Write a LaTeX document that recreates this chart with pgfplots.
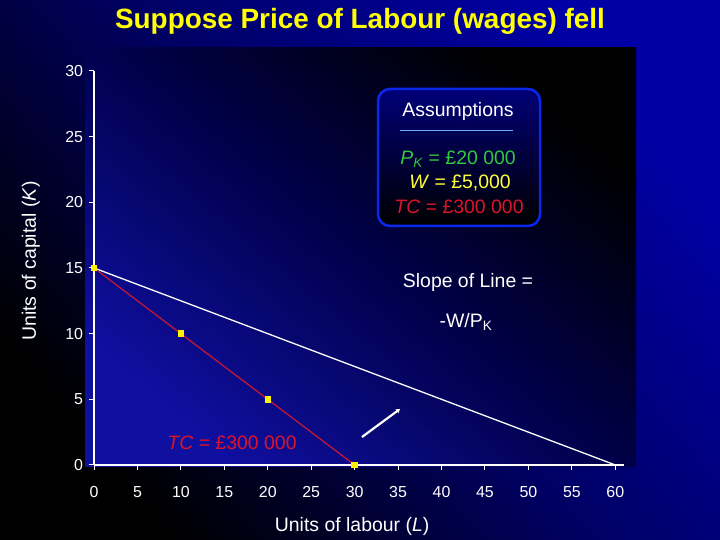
\documentclass[border=0pt]{standalone}
\usepackage{fontspec}
\setmainfont{Liberation Sans}
\usepackage{pgfplots}
\pgfplotsset{compat=1.18}
\usetikzlibrary{arrows.meta}
\definecolor{slideblue}{RGB}{0,0,165}
\definecolor{panelblue}{RGB}{15,15,160}
\definecolor{panelmid}{RGB}{0,0,75}
\definecolor{boxborder}{RGB}{10,40,235}
\definecolor{boxtop}{RGB}{0,0,120}
\definecolor{rulecol}{RGB}{110,170,255}
\definecolor{pkgreen}{RGB}{50,200,60}
\definecolor{wyellow}{RGB}{255,255,60}
\definecolor{tcred}{RGB}{220,20,40}
\definecolor{linered}{RGB}{190,25,50}
\definecolor{titleyellow}{RGB}{255,255,0}
\begin{document}
\begin{tikzpicture}[x=1bp,y=1bp]
\useasboundingbox (0,0) rectangle (720,540);
\shade[top color=slideblue, bottom color=black, middle color=black!40!slideblue, shading angle=-50] (0,0) rectangle (720,540);
\shade[top color=black, bottom color=panelblue, middle color=panelmid, shading angle=-40] (85,73) rectangle (636,492);
\node[text=titleyellow, font=\bfseries\fontsize{28}{28}\selectfont, anchor=base] at (360,511) {Suppose Price of Labour (wages) fell};
\begin{axis}[
  at={(94bp,75bp)}, anchor=south west,
  scale only axis, width=530bp, height=394bp,
  xmin=0, xmax=61, ymin=0, ymax=30,
  axis x line=bottom, axis y line=left,
  axis line style={-, white, line width=1.6bp},
  xtick={0,5,...,60}, ytick={0,5,...,30},
  tick style={white, line width=1bp},
  tick align=outside, major tick length=5bp,
  ticklabel style={text=white, font=\fontsize{16}{16}\selectfont},
  xticklabel style={anchor=north, text height=11.5bp, text depth=0bp, yshift=-12.5bp},
  yticklabel style={xshift=-2.5bp},
  /pgf/number format/assume math mode=true,
  clip=false,
  xlabel={Units of labour (\textit{L})},
  ylabel={Units of capital (\textit{K})},
  xlabel style={at={(axis description cs:0.487,-0.157)}, anchor=center, text=white, font=\fontsize{19.5}{19.5}\selectfont},
  ylabel style={at={(axis description cs:-0.119,0.518)}, anchor=center, rotate=0, text=white, font=\fontsize{19.5}{19.5}\selectfont},
]
\addplot[white, line width=1.3bp] coordinates {(0,15) (60,0)};
\addplot[linered, line width=1.3bp, mark=square*, mark size=2.6bp, mark options={fill=yellow, draw=yellow}] coordinates {(0,15) (10,10) (20,5) (30,0)};
\end{axis}
% assumptions box
\shade[rounded corners=12bp, top color=boxtop, bottom color=black] (378,314) rectangle (540,451);
\draw[boxborder, line width=2.5bp, rounded corners=12bp] (378,314) rectangle (540,451);
\node[text=white, font=\fontsize{19.5}{19.5}\selectfont] at (458,429) {Assumptions};
\draw[rulecol, line width=0.8bp] (400,410) -- (513,410);
\node[text=pkgreen, font=\fontsize{19.5}{19.5}\selectfont] at (458,381) {\textit{P}\textsubscript{\textit{K}} = £20 000};
\node[text=wyellow, font=\fontsize{19.5}{19.5}\selectfont] at (460,357) {\textit{W} = £5,000};
\node[text=tcred, font=\fontsize{19.5}{19.5}\selectfont] at (459,333) {\textit{TC} = £300 000};
\node[text=white, font=\fontsize{19.5}{19.5}\selectfont] at (468,258) {Slope of Line =};
\node[text=white, font=\fontsize{19.5}{19.5}\selectfont] at (466,218) {-W/P\textsubscript{K}};
\node[text=tcred, font=\fontsize{19.5}{19.5}\selectfont] at (232,97) {\textit{TC} = £300 000};
\draw[white, line width=2.2bp, -{Stealth[length=4bp,width=5bp]}] (362,103) -- (400,131);
\end{tikzpicture}
\end{document}
